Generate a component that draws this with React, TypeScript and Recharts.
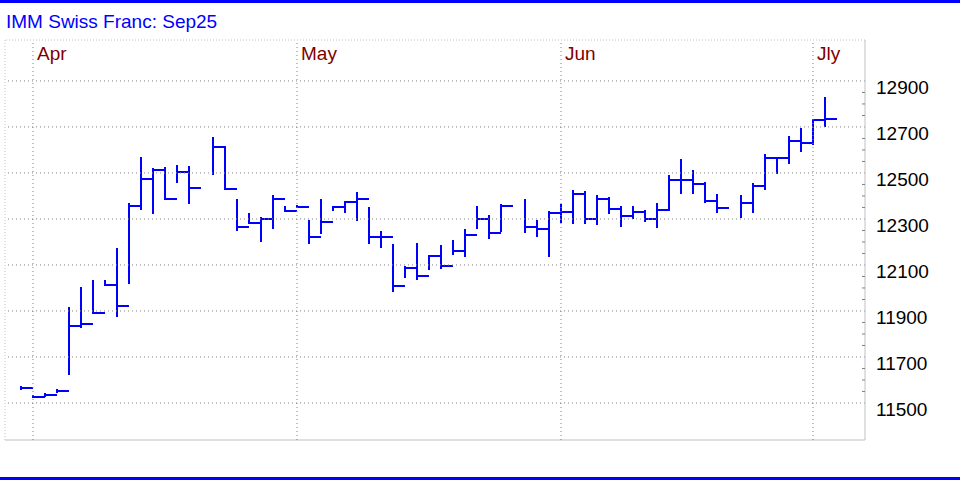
import { Bar, ComposedChart, ReferenceLine, XAxis, YAxis } from 'recharts';

const FONT = '"Liberation Sans", Arial, sans-serif';
const BAR_COLOR = '#0000ff';
const GRID_COLOR = '#808080';
const FRAME_COLOR = '#c0c0c0';

// one slot per weekday, null = no trading (Good Friday, Memorial Day, Juneteenth)
const DATES = [
  'Mar 28', 'Mar 31', 'Apr 1', 'Apr 2', 'Apr 3', 'Apr 4', 'Apr 7', 'Apr 8', 'Apr 9', 'Apr 10',
  'Apr 11', 'Apr 14', 'Apr 15', 'Apr 16', 'Apr 17', 'Apr 18', 'Apr 21', 'Apr 22', 'Apr 23', 'Apr 24',
  'Apr 25', 'Apr 28', 'Apr 29', 'Apr 30', 'May 1', 'May 2', 'May 5', 'May 6', 'May 7', 'May 8',
  'May 9', 'May 12', 'May 13', 'May 14', 'May 15', 'May 16', 'May 19', 'May 20', 'May 21', 'May 22',
  'May 23', 'May 26', 'May 27', 'May 28', 'May 29', 'May 30', 'Jun 2', 'Jun 3', 'Jun 4', 'Jun 5',
  'Jun 6', 'Jun 9', 'Jun 10', 'Jun 11', 'Jun 12', 'Jun 13', 'Jun 16', 'Jun 17', 'Jun 18', 'Jun 19',
  'Jun 20', 'Jun 23', 'Jun 24', 'Jun 25', 'Jun 26', 'Jun 27', 'Jun 30', 'Jul 1',
];

const HIGHS = [
  11568, 11530, 11540, 11557, 11913, 11999, 12030, 12030, 12170, 12365,
  12565, 12515, 12520, 12530, 12525, null, 12651, 12612, 12383, 12320,
  12302, 12400, 12354, 12357, 12291, 12383, 12354, 12373, 12414, 12346,
  12243, 12187, 12093, 12191, 12141, 12181, 12204, 12252, 12354, 12313,
  12361, null, 12383, 12291, 12329, 12361, 12422, 12416, 12400, 12390,
  12351, 12354, 12336, 12365, 12487, 12557, 12509, 12455, 12404, null,
  12400, 12452, 12578, 12567, 12655, 12690, 12730, 12825,
];

const LOWS = [
  11562, 11524, 11532, 11548, 11627, 11832, 11891, 12013, 11880, 12023,
  12345, 12327, 12387, 12462, 12368, null, 12494, 12430, 12252, 12281,
  12206, 12262, 12335, 12350, 12197, 12241, 12339, 12332, 12296, 12194,
  12180, 11988, 12049, 12040, 12081, 12088, 12146, 12141, 12259, 12219,
  12248, null, 12245, 12227, 12141, 12288, 12281, 12281, 12277, 12325,
  12271, 12306, 12291, 12267, 12339, 12414, 12414, 12375, 12332, null,
  12307, 12332, 12429, 12501, 12545, 12596, 12626, 12706,
];

const CLOSES = [
  11565, 11527, 11536, 11553, 11835, 11845, 11891, 12014, 11922, 12358,
  12474, 12514, 12387, 12506, 12435, null, 12612, 12430, 12267, 12284,
  12301, 12388, 12336, 12354, 12223, 12288, 12354, 12373, 12386, 12223,
  12223, 12010, 12088, 12052, 12140, 12096, 12162, 12230, 12300, 12238,
  12358, null, 12264, 12258, 12327, 12329, 12407, 12300, 12388, 12345,
  12314, 12332, 12300, 12339, 12470, 12470, 12451, 12380, 12349, null,
  12371, 12443, 12567, 12567, 12640, 12629, 12730, 12735,
];

const MONTH_LABELS = ['Apr', 'May', 'Jun', 'Jly'];
const MONTH_LINE_DATES = ['Mar 31', 'Apr 30', 'May 30', 'Jun 30'];

const PRICE_LABELS = [11500, 11700, 11900, 12100, 12300, 12500, 12700, 12900];
const Y_DOMAIN = [11339, 13078];
const X_DOMAIN = [-1.333, DATES.length + 2.333];

const MINOR_TICKS: number[] = [];
for (let v = 11550; v < 12900; v += 50) {
  if (!PRICE_LABELS.includes(v)) MINOR_TICKS.push(v);
}
const Y_TICKS = [...PRICE_LABELS, ...MINOR_TICKS].sort((a, b) => a - b);

const data = DATES.map((date, i) => ({
  i,
  date,
  high: HIGHS[i],
  low: LOWS[i],
  close: CLOSES[i],
  range: HIGHS[i] == null ? null : [LOWS[i], HIGHS[i]],
}));

function HlcBar(props: any) {
  const { x, y, width, height, payload } = props;
  if (!payload || payload.close == null) return <g />;
  const top = Math.min(y, y + height);
  const bottom = Math.max(y, y + height);
  const span = payload.high - payload.low;
  const closeY = span > 0 ? top + ((payload.high - payload.close) / span) * (bottom - top) : top;
  const cx = Math.round(x + width / 2);
  const yc = Math.round(closeY);
  return (
    <g>
      <line x1={cx} x2={cx} y1={Math.round(top) - 1} y2={Math.round(bottom) + 1} stroke={BAR_COLOR} strokeWidth={2} />
      <line x1={cx} x2={cx + width} y1={yc} y2={yc} stroke={BAR_COLOR} strokeWidth={2} />
    </g>
  );
}

function PriceTick(props: any) {
  const { x, y, payload } = props;
  const v = payload.value;
  if (PRICE_LABELS.includes(v)) {
    return (
      <text x={x + 11} y={y + 13} fill="#000" fontSize={19} fontFamily={FONT} textAnchor="start">
        {v}
      </text>
    );
  }
  return <line x1={x - 3} x2={x} y1={y} y2={y} stroke={GRID_COLOR} strokeWidth={1} />;
}

function monthLabel(text: string) {
  return (props: any) => {
    const vb = props.viewBox || {};
    return (
      <text x={vb.x + 4} y={vb.y + 20} fill="#800000" fontSize={19} fontFamily={FONT}>
        {text}
      </text>
    );
  };
}

export default function App() {
  return (
    <div
      style={{
        position: 'absolute',
        left: 0,
        top: 0,
        width: 960,
        height: 480,
        background: '#fff',
        fontFamily: FONT,
      }}
    >
      <div style={{ position: 'absolute', left: 0, top: 0, width: 960, height: 3, background: BAR_COLOR }} />
      <div
        style={{
          position: 'absolute',
          left: 6,
          top: 12,
          fontSize: 19,
          lineHeight: '19px',
          color: BAR_COLOR,
          whiteSpace: 'nowrap',
        }}
      >
        IMM Swiss Franc: Sep25
      </div>
      <ComposedChart
        width={960}
        height={480}
        data={data}
        margin={{ top: 40, right: 0, bottom: 40, left: 5 }}
      >
        <XAxis dataKey="i" type="number" domain={X_DOMAIN} hide allowDataOverflow />
        <YAxis
          orientation="right"
          type="number"
          domain={Y_DOMAIN}
          ticks={Y_TICKS}
          interval={0}
          width={95}
          allowDataOverflow
          tickSize={0}
          tickMargin={0}
          tickLine={false}
          axisLine={{ stroke: FRAME_COLOR, strokeWidth: 1 }}
          tick={<PriceTick />}
        />
        <ReferenceLine y={Y_DOMAIN[1]} stroke={FRAME_COLOR} strokeDasharray="1 2" />
        <ReferenceLine y={Y_DOMAIN[0]} stroke={FRAME_COLOR} />
        <ReferenceLine x={X_DOMAIN[0]} stroke={FRAME_COLOR} strokeDasharray="1 2" />
        {PRICE_LABELS.map((v) => (
          <ReferenceLine key={`h-${v}`} y={v} stroke={GRID_COLOR} strokeDasharray="1 3" />
        ))}
        {MONTH_LINE_DATES.map((d, k) => (
          <ReferenceLine
            key={`m-${d}`}
            x={DATES.indexOf(d)}
            stroke={GRID_COLOR}
            strokeDasharray="1 3"
            label={monthLabel(MONTH_LABELS[k])}
          />
        ))}
        <Bar dataKey="range" barSize={12} shape={<HlcBar />} isAnimationActive={false} />
      </ComposedChart>
      <div style={{ position: 'absolute', left: 0, top: 477, width: 960, height: 3, background: BAR_COLOR }} />
    </div>
  );
}
